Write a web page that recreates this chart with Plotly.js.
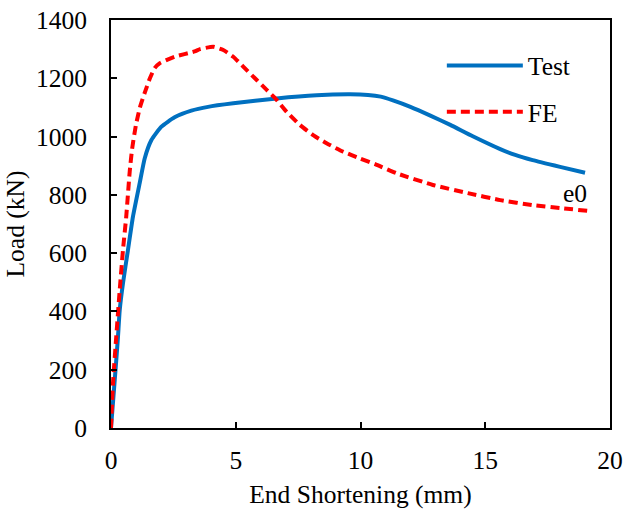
<!DOCTYPE html>
<html>
<head>
<meta charset="utf-8">
<script src="https://cdn.plot.ly/plotly-3.0.1.min.js"></script>
<style>html,body{margin:0;padding:0;background:#fff;}#chart{width:626px;height:515px;}</style>
</head>
<body>
<div id="chart"></div>
<script>
const testX = [0, 0.1, 0.2, 0.28, 0.35, 0.48, 0.68, 0.88, 1.15, 1.35, 1.62, 2.02, 2.55, 3.22, 3.89, 4.9, 6.64, 8.24, 9.58, 10.3, 10.81, 11.3, 12.0, 12.8, 13.6, 14.5, 15.6, 16.2, 16.9, 18.0, 19.0];
const testY = [0, 110, 220, 313, 405, 497, 611, 725, 840, 925, 988, 1034, 1066, 1089, 1102, 1114, 1131, 1142, 1145, 1143, 1137, 1124, 1102, 1072, 1040, 1001, 957, 937, 919, 896, 876];
const feX = [0, 0.08, 0.21, 0.35, 0.48, 0.61, 0.75, 0.85, 1.0, 1.16, 1.35, 1.56, 1.75, 1.96, 2.55, 3.35, 3.57, 4.1, 4.5, 4.9, 5.3, 5.84, 6.24, 6.64, 7.04, 7.57, 8.1, 8.64, 9.31, 9.98, 10.65, 11.45, 12.9, 14.3, 15.6, 16.9, 18.0, 19.1];
const feY = [0, 154, 313, 474, 611, 725, 880, 960, 1040, 1100, 1150, 1200, 1235, 1252, 1274, 1292, 1300, 1308, 1297, 1274, 1240, 1194, 1160, 1126, 1085, 1040, 1005, 977, 948, 925, 903, 874, 834, 806, 782, 765, 755, 745];
const xTicks = [0, 5, 10, 15, 20];
const yTicks = [0, 200, 400, 600, 800, 1000, 1200, 1400];

const font = {family: 'Liberation Serif, Times New Roman, serif', size: 25.5, color: '#000'};

Plotly.newPlot('chart', [
  {x: testX, y: testY, name: 'Test', legendgroup: 'a', mode: 'lines', line: {color: '#0070C0', width: 4, shape: 'spline', smoothing: 0.5}},
  {x: feX, y: feY, name: 'FE', legendgroup: 'b', mode: 'lines', line: {color: '#FF0000', width: 4, dash: '9px,5px', shape: 'spline', smoothing: 0.5}}
], {
  width: 626, height: 515,
  margin: {l: 111, r: 16, t: 20, b: 87},
  paper_bgcolor: '#fff', plot_bgcolor: '#fff',
  font: font,
  showlegend: true,
  legend: {x: 0.663, y: 0.945, xanchor: 'left', yanchor: 'top', bgcolor: 'rgba(0,0,0,0)', font: font, itemwidth: 76, traceorder: 'grouped', tracegroupgap: 10},
  xaxis: {
    range: [0, 20], tickvals: xTicks, ticks: 'inside', ticklen: 6, tickwidth: 2, tickcolor: '#000',
    showline: true, linecolor: '#000', linewidth: 2, mirror: true, showgrid: false, zeroline: false,
    tickfont: font, ticklabelstandoff: 8,
    title: {text: 'End Shortening (mm)', font: font, standoff: 12}
  },
  yaxis: {
    range: [0, 1400], tickvals: yTicks, ticks: 'inside', ticklen: 6, tickwidth: 2, tickcolor: '#000',
    showline: true, linecolor: '#000', linewidth: 2, mirror: true, showgrid: false, zeroline: false,
    tickfont: font, ticklabelstandoff: 17,
    title: {text: 'Load (kN)', font: font, standoff: 4}
  },
  annotations: [{x: 18.6, y: 806, xref: 'x', yref: 'y', text: 'e0', showarrow: false, font: font}]
}, {displayModeBar: false, staticPlot: true});
</script>
</body>
</html>
